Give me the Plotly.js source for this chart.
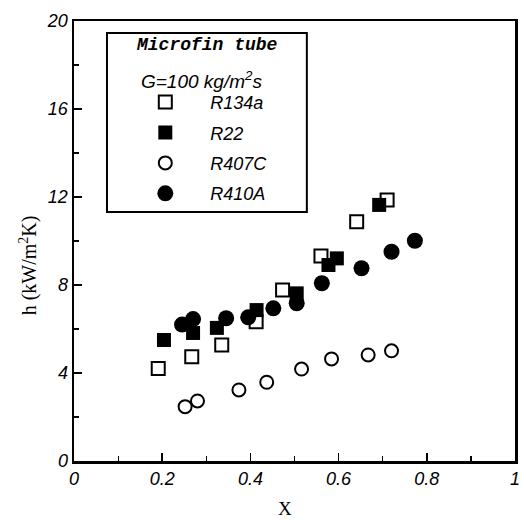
<!DOCTYPE html>
<html>
<head>
<meta charset="utf-8">
<script src="https://cdn.plot.ly/plotly-3.0.1.min.js"></script>
<style>html,body{margin:0;padding:0;background:#fff;}#chart{width:522px;height:520px;}</style>
</head>
<body>
<div id="chart"></div>
<script>
// Data (x = quality, h in kW/m2K)
const seriesNames = ["R134a", "R22", "R407C", "R410A"];
const r134aX = [0.191, 0.267, 0.335, 0.413, 0.473, 0.560, 0.641, 0.710];
const r134aY = [4.21, 4.74, 5.27, 6.33, 7.77, 9.32, 10.88, 11.86];
const r22X = [0.204, 0.270, 0.324, 0.414, 0.505, 0.577, 0.596, 0.692];
const r22Y = [5.50, 5.82, 6.05, 6.86, 7.62, 8.91, 9.21, 11.64];
const r407cX = [0.252, 0.280, 0.374, 0.437, 0.516, 0.584, 0.667, 0.720];
const r407cY = [2.47, 2.73, 3.23, 3.58, 4.18, 4.64, 4.82, 5.01];
const r410aX = [0.245, 0.270, 0.345, 0.395, 0.452, 0.505, 0.562, 0.652, 0.720, 0.773];
const r410aY = [6.20, 6.45, 6.49, 6.53, 6.94, 7.17, 8.08, 8.76, 9.51, 10.01];
const xTickVals = [0, 0.2, 0.4, 0.6, 0.8, 1];
const xTickText = ["0", "0.2", "0.4", "0.6", "0.8", "1"];
const yTickVals = [0, 4, 8, 12, 16, 20];
const yTickText = ["0", "4", "8", "12", "16", "20"];

const traces = [
  {x: r134aX, y: r134aY, name: seriesNames[0], mode: "markers", type: "scatter", legendgroup: "a",
   marker: {symbol: "square-open", size: 13, color: "#000", line: {width: 2, color: "#000"}}},
  {x: r22X, y: r22Y, name: seriesNames[1], mode: "markers", type: "scatter", legendgroup: "b",
   marker: {symbol: "square", size: 14, color: "#000", line: {width: 0}}},
  {x: r407cX, y: r407cY, name: seriesNames[2], mode: "markers", type: "scatter", legendgroup: "c",
   marker: {symbol: "circle-open", size: 13, color: "#000", line: {width: 2, color: "#000"}}},
  {x: r410aX, y: r410aY, name: seriesNames[3], mode: "markers", type: "scatter", legendgroup: "d",
   marker: {symbol: "circle", size: 16, color: "#000", line: {width: 0}}}
];

const tickFont = {family: "Liberation Sans, Arial, sans-serif", size: 18, color: "#000", style: "italic"};

const layout = {
  width: 522, height: 520,
  margin: {l: 74, r: 7, t: 21, b: 59},
  paper_bgcolor: "#fff", plot_bgcolor: "#fff",
  showlegend: true,
  legend: {
    x: 0.105, y: 0.857, xanchor: "left", yanchor: "top",
    bgcolor: "rgba(0,0,0,0)", borderwidth: 0,
    itemwidth: 80, tracegroupgap: 4,
    font: {family: "Liberation Sans, Arial, sans-serif", size: 18, color: "#000", style: "italic"}
  },
  xaxis: {
    range: [0, 1], tickmode: "array", tickvals: xTickVals, ticktext: xTickText,
    ticks: "inside", ticklen: 8, tickwidth: 1.5, tickcolor: "#000",
    minor: {dtick: 0.1, ticks: "inside", ticklen: 5, tickwidth: 1.2, tickcolor: "#000"},
    showline: true, linewidth: 2.5, linecolor: "#000", mirror: true,
    showgrid: false, zeroline: false, tickfont: tickFont
  },
  yaxis: {
    range: [0, 20], tickmode: "array", tickvals: yTickVals, ticktext: yTickText,
    ticks: "inside", ticklen: 8, tickwidth: 1.5, tickcolor: "#000",
    minor: {dtick: 2, ticks: "inside", ticklen: 5, tickwidth: 1.2, tickcolor: "#000"},
    showline: true, linewidth: 2.5, linecolor: "#000", mirror: true,
    showgrid: false, zeroline: false, tickfont: tickFont
  },
  shapes: [
    {type: "rect", xref: "paper", yref: "paper", x0: 0.0748, x1: 0.528, y0: 0.566, y1: 0.973,
     line: {color: "#000", width: 2}, fillcolor: "rgba(0,0,0,0)"}
  ],
  annotations: [
    {text: "<b><i>Microfin tube</i></b>", xref: "paper", yref: "paper", x: 0.301, y: 0.945,
     xanchor: "center", yanchor: "middle", showarrow: false,
     font: {family: "Liberation Mono, DejaVu Sans Mono, monospace", size: 18, color: "#000"}},
    {text: "<i>G=100 kg/m<sup>2</sup>s</i>", xref: "paper", yref: "paper", x: 0.29, y: 0.866,
     xanchor: "center", yanchor: "middle", showarrow: false,
     font: {family: "Liberation Sans, Arial, sans-serif", size: 19, color: "#000"}},
    {text: "h (kW/m<sup>2</sup>K)", xref: "paper", yref: "paper", x: -0.104, y: 0.445,
     xanchor: "center", yanchor: "middle", textangle: -90, showarrow: false,
     font: {family: "Liberation Serif, Times New Roman, serif", size: 20, color: "#000"}},
    {text: "X", xref: "paper", yref: "paper", x: 0.478, y: -0.108,
     xanchor: "center", yanchor: "middle", showarrow: false,
     font: {family: "Liberation Serif, Times New Roman, serif", size: 19, color: "#000"}}
  ]
};

Plotly.newPlot("chart", traces, layout, {staticPlot: true, displayModeBar: false});
</script>
</body>
</html>
